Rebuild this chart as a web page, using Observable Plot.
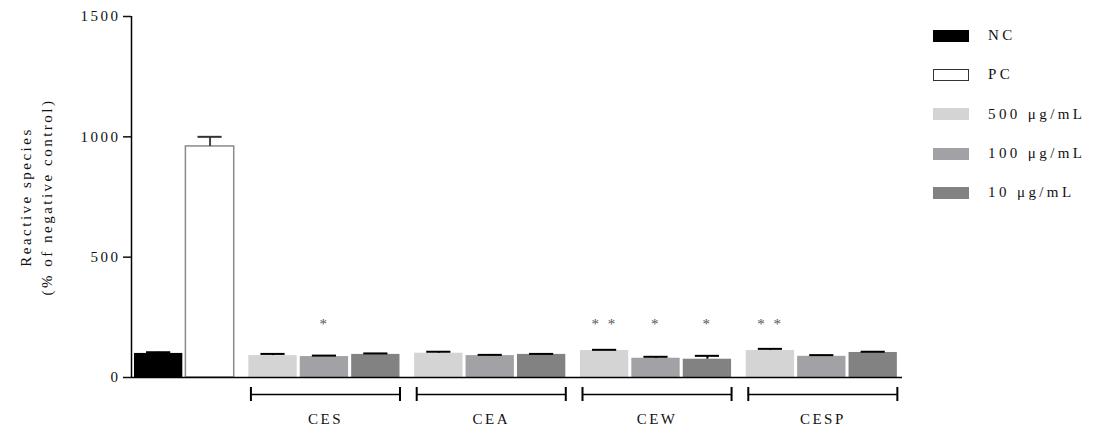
<!DOCTYPE html>
<html>
<head>
<meta charset="utf-8">
<script src="https://cdn.jsdelivr.net/npm/d3@7"></script>
<script src="https://cdn.jsdelivr.net/npm/@observablehq/plot@0.6"></script>
<style>
  html, body { margin: 0; padding: 0; background: #fff; }
  #wrap { position: relative; width: 1094px; height: 433px; font-family: 'Liberation Serif', serif; }
  #legend { position: absolute; left: 933px; top: 16px; }
  .row { display: flex; align-items: center; height: 39.3px; }
  .sw { width: 36px; height: 12px; box-sizing: border-box; margin-right: 19px; }
  .lab { font-family: 'Liberation Serif', serif; font-size: 15px; letter-spacing: 3.4px; color: #111; }
</style>
</head>
<body>
<div id="wrap"><div id="legend"></div></div>
<script>
// ---- data ----
const controlLabels = ["NC", "PC"];
const controlValues = [100, 960];
const controlErrors = [5, 40];

const groups = ["CES", "CEA", "CEW", "CESP"];
const concentrations = ["500 μg/mL", "100 μg/mL", "10 μg/mL"];

const cesValues  = [91, 87, 96];
const ceaValues  = [101, 91, 96];
const cewValues  = [112, 80, 76];
const cespValues = [112, 88, 104];

const cesErrors  = [7, 4, 4];
const ceaErrors  = [6, 3, 2];
const cewErrors  = [3, 6, 14];
const cespErrors = [7, 5, 3];

const cesStars  = ["", "*", ""];
const ceaStars  = ["", "", ""];
const cewStars  = ["* *", "*", "*"];
const cespStars = ["* *", "", ""];

const yTicks = [0, 500, 1000, 1500];
const colorDomain = [...controlLabels, ...concentrations];
const colorRange = ["#000000", "#ffffff", "#d4d4d4", "#a2a2a6", "#828282"];

// ---- layout helpers (slot units) ----
const barW = 0.94;
const groupGap = 0.225;
const starLevel = 220;
const FONT = "Liberation Serif";

const groupValues = [cesValues, ceaValues, cewValues, cespValues];
const groupErrors = [cesErrors, ceaErrors, cewErrors, cespErrors];
const groupStars = [cesStars, ceaStars, cewStars, cespStars];

const bars = [];
controlLabels.forEach((l, i) => bars.push({label: l, series: l, group: null, pos: i, value: controlValues[i], err: controlErrors[i], star: ""}));
groups.forEach((g, gi) => {
  concentrations.forEach((c, j) => {
    bars.push({label: g + " " + c, series: c, group: g,
      pos: 2 + gi * 3 + j + (gi + 1) * groupGap,
      value: groupValues[gi][j], err: groupErrors[gi][j], star: groupStars[gi][j]});
  });
});
const groupSpans = groups.map(g => {
  const b = bars.filter(d => d.group === g);
  return {group: g, start: b[0].pos + 0.04, end: b[b.length - 1].pos + barW};
});
const groupEnds = groupSpans.flatMap(d => [d.start, d.end]);
const xMin = -0.058, xMax = 14.94;

const plot = Plot.plot({
  width: 1094,
  height: 433,
  marginLeft: 131,
  marginRight: 192,
  marginTop: 16,
  marginBottom: 56,
  style: "font-family: 'Liberation Serif', serif; font-size: 15px; letter-spacing: 2.5px; color: #111; background: #fff;",
  x: {type: "linear", domain: [xMin, xMax], axis: null},
  y: {domain: [0, 1500]},
  color: {type: "ordinal", domain: colorDomain, range: colorRange},
  marks: [
    Plot.rect(bars, {x1: "pos", x2: d => d.pos + barW, y1: 0, y2: "value", fill: "series"}),
    Plot.rect(bars.filter(d => d.label === "PC"), {x1: "pos", x2: d => d.pos + barW, y1: 0, y2: "value", fill: "none", stroke: "#8a8a8a", strokeWidth: 1.5}),
    Plot.ruleX(bars, {x: d => d.pos + barW / 2, y1: "value", y2: d => d.value + d.err, stroke: d => d.label === "PC" ? "#444" : "#000", strokeWidth: 2}),
    Plot.ruleY(bars, {y: d => d.value + d.err, x1: d => d.pos + barW / 2 - 0.235, x2: d => d.pos + barW / 2 + 0.235, stroke: d => d.label === "PC" ? "#333" : "#000", strokeWidth: 2}),
    Plot.text(bars.filter(d => d.star), {x: d => d.pos + barW / 2, y: starLevel, text: "star", fill: "#555", fontFamily: FONT, fontSize: 15}),
    Plot.ruleX([xMin], {stroke: "#000", strokeWidth: 1.5}),
    Plot.ruleY([0], {stroke: "#000", strokeWidth: 1.5}),
    Plot.axisY({ticks: yTicks, tickSize: 8, tickPadding: 3, tickFormat: d => String(d), label: null, strokeWidth: 1.5, fontFamily: FONT, fontSize: 15}),
    Plot.ruleY(groupSpans, {y: 0, x1: "start", x2: "end", dy: 17, stroke: "#000", strokeWidth: 1.5}),
    Plot.ruleX(groupEnds, {x: d => d, y1: 0, y2: 0, dy: 17, insetTop: -7, insetBottom: -7, stroke: "#000", strokeWidth: 2}),
    Plot.text(groupSpans, {x: d => (d.start + d.end) / 2, y: 0, dy: 42, text: "group", fontFamily: FONT, fontSize: 15}),
    Plot.text(["Reactive species\n(% of negative control)"], {frameAnchor: "left", textAnchor: "middle", lineAnchor: "middle", rotate: -90, dx: -97, lineHeight: 1.45, fontFamily: FONT, fontSize: 15})
  ]
});
document.getElementById("wrap").prepend(plot);

// ---- legend (HTML, from the plot's color scale) ----
const cs = plot.scale("color");
const legend = document.getElementById("legend");
cs.domain.forEach((d, i) => {
  const row = document.createElement("div");
  row.className = "row";
  const sw = document.createElement("div");
  sw.className = "sw";
  sw.style.background = cs.range[i];
  if (d === "PC") sw.style.border = "1px solid #333";
  const lab = document.createElement("div");
  lab.className = "lab";
  lab.textContent = d;
  row.append(sw, lab);
  legend.append(row);
});
</script>
</body>
</html>
